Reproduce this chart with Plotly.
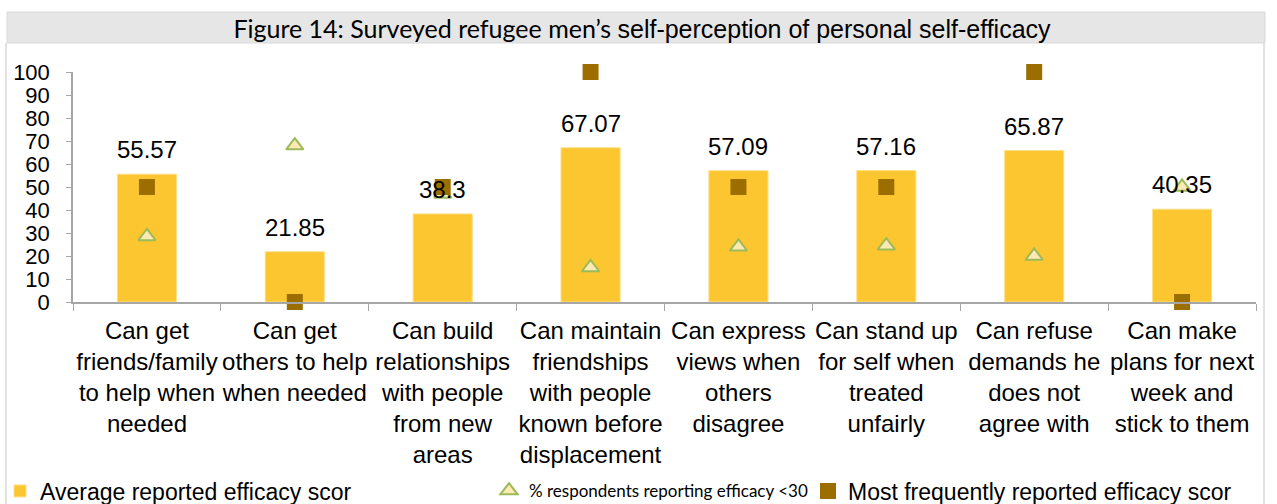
import plotly.graph_objects as go

# ---- data ----
categories = [
    "Can get<br>friends/family<br>to help when<br>needed",
    "Can get<br>others to help<br>when needed",
    "Can build<br>relationships<br>with people<br>from new<br>areas",
    "Can maintain<br>friendships<br>with people<br>known before<br>displacement",
    "Can express<br>views when<br>others<br>disagree",
    "Can stand up<br>for self when<br>treated<br>unfairly",
    "Can refuse<br>demands he<br>does not<br>agree with",
    "Can make<br>plans for next<br>week and<br>stick to them",
]
avg_score = [55.57, 21.85, 38.3, 67.07, 57.09, 57.16, 65.87, 40.35]
pct_below_30 = [28.5, 68, 47, 15, 24, 24.5, 20, 50]
mode_score = [50, 0, 50, 100, 50, 50, 100, 0]
y_ticks = [0, 10, 20, 30, 40, 50, 60, 70, 80, 90, 100]

# ---- canvas geometry (px) ----
W, H = 1277, 504
L, R, T, B = 73, 21, 72, 202
PW, PH = W - L - R, H - T - B


def px_x(px):
    return (px - L) / PW


def px_y(py):
    return (H - B - py) / PH


ARIAL = "Liberation Sans, Arial, sans-serif"
HUMANIST = "Lato, Noto Sans, sans-serif"

fig = go.Figure()

fig.add_trace(go.Bar(
    x=categories, y=avg_score, width=0.4,
    marker=dict(color="#FCC630", line=dict(color="#FDE08A", width=1)),
    name="Average reported efficacy scor", legend="legend",
    cliponaxis=False,
))
fig.add_trace(go.Scatter(
    x=categories, y=pct_below_30, mode="markers",
    marker=dict(symbol="triangle-up", size=15, color="#FDE9B4",
                line=dict(color="#9BBB59", width=2)),
    name="% respondents reporting efficacy <30", legend="legend2",
    cliponaxis=False,
))
fig.add_trace(go.Scatter(
    x=categories, y=mode_score, mode="markers",
    marker=dict(symbol="square", size=16, color="#9C6E00"),
    name="Most frequently reported efficacy scor", legend="legend3",
    cliponaxis=False,
))

# value labels above the bars
for c, v in zip(categories, avg_score):
    fig.add_annotation(x=c, y=v, text=f"{v:g}", showarrow=False,
                       yanchor="bottom", yshift=9,
                       font=dict(family=ARIAL, size=24, color="#000000"))

# title band and chart frame
fig.add_shape(type="rect", xref="paper", yref="paper",
              x0=px_x(7), x1=px_x(1265), y0=px_y(43), y1=px_y(12),
              fillcolor="#E6E6E6", line=dict(color="#D9D9D9", width=1),
              layer="below")
fig.add_shape(type="line", xref="paper", yref="paper",
              x0=px_x(6), x1=px_x(6), y0=px_y(43), y1=px_y(504),
              line=dict(color="#D9D9D9", width=1.5))
fig.add_shape(type="line", xref="paper", yref="paper",
              x0=px_x(1264), x1=px_x(1264), y0=px_y(43), y1=px_y(504),
              line=dict(color="#D9D9D9", width=1.5))

fig.update_layout(
    width=W, height=H,
    margin=dict(l=L, r=R, t=T, b=B, autoexpand=False),
    paper_bgcolor="#FFFFFF", plot_bgcolor="#FFFFFF",
    title=dict(
        text=("<span style=\"font-family:Lato\">"
              "Figure 14: Surveyed refugee men’s </span>"
              "self-perception of personal self-efficacy"),
        x=642 / W, xref="container", xanchor="center",
        y=1 - 29 / H, yref="container", yanchor="middle",
        font=dict(family=ARIAL, size=25, color="#000000"),
    ),
    showlegend=True,
    legend=dict(orientation="h", xref="container", yref="container",
                x=-7 / W, y=1 - 491 / H, xanchor="left", yanchor="middle",
                font=dict(family=ARIAL, size=23, color="#000000"),
                bgcolor="rgba(0,0,0,0)", itemwidth=30),
    legend2=dict(orientation="h", xref="container", yref="container",
                 x=489 / W, y=1 - 491 / H, xanchor="left", yanchor="middle",
                 font=dict(family=HUMANIST, size=17, color="#000000"),
                 bgcolor="rgba(0,0,0,0)", itemwidth=30),
    legend3=dict(orientation="h", xref="container", yref="container",
                 x=808 / W, y=1 - 491 / H, xanchor="left", yanchor="middle",
                 font=dict(family=ARIAL, size=23, color="#000000"),
                 bgcolor="rgba(0,0,0,0)", itemwidth=30),
    xaxis=dict(
        type="category", tickson="boundaries", ticks="outside", ticklen=7,
        tickcolor="#A6A6A6", showline=True, linecolor="#A6A6A6", linewidth=1.5,
        showgrid=False, tickangle=0,
        tickfont=dict(family=ARIAL, size=24, color="#000000"),
        ticklabelstandoff=6,
    ),
    yaxis=dict(
        range=[0, 100], tickvals=y_ticks, ticks="outside", ticklen=5,
        tickcolor="#A6A6A6", showline=True, linecolor="#A6A6A6", linewidth=1.5,
        showgrid=False, zeroline=False,
        tickfont=dict(family=ARIAL, size=22, color="#000000"),
        ticklabelstandoff=12,
    ),
    bargap=0.6,
)

fig.write_html("out.html")
